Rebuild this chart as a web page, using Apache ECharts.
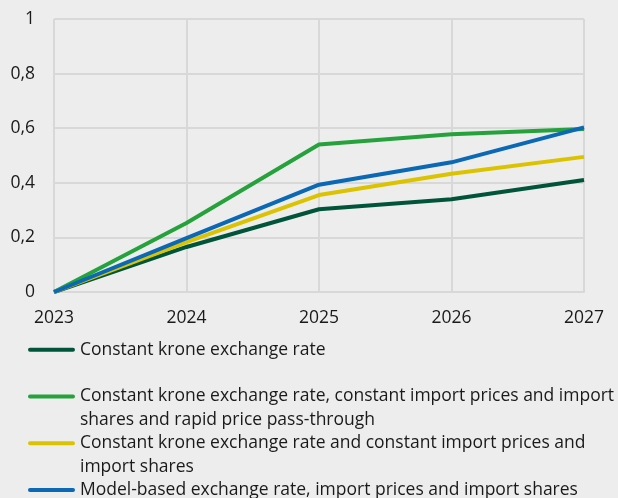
<!DOCTYPE html>
<html>
<head>
<meta charset="utf-8">
<script src="https://cdn.jsdelivr.net/npm/echarts@6/dist/echarts.min.js"></script>
<style>
  html, body { margin: 0; padding: 0; background: #ededed; }
  #chart { width: 618px; height: 498px; }
</style>
</head>
<body>
<div id="chart"></div>
<script>
// data
const years = ['2023', '2024', '2025', '2026', '2027']
const constantKrone = [0, 0.165, 0.303, 0.34, 0.41]
const rapidPassThrough = [0, 0.253, 0.54, 0.578, 0.597]
const constantImport = [0, 0.183, 0.355, 0.433, 0.495]
const modelBased = [0, 0.197, 0.393, 0.475, 0.603]

const seriesNames = [
  'Constant krone exchange rate',
  'Constant krone exchange rate, constant import prices and import shares and rapid price pass-through',
  'Constant krone exchange rate and constant import prices and import shares',
  'Model-based exchange rate, import prices and import shares',
]
// how the legend text wraps in the picture (every entry takes two lines)
const legendLines = {}
legendLines[seriesNames[0]] = 'Constant krone exchange rate\n '
legendLines[seriesNames[1]] = 'Constant krone exchange rate, constant import prices and import\nshares and rapid price pass-through'
legendLines[seriesNames[2]] = 'Constant krone exchange rate and constant import prices and\nimport shares'
legendLines[seriesNames[3]] = 'Model-based exchange rate, import prices and import shares\n '

const colors = ['#00543a', '#26a23c', '#dcc300', '#0a68b4']
const values = [constantKrone, rapidPassThrough, constantImport, modelBased]

const font = '"Open Sans", "Noto Sans", sans-serif'
const gridColor = '#d8d8d8'
const lineH = 23.4

let myChart = echarts.init(document.getElementById('chart'))

let options = {
  backgroundColor: '#ededed',
  animation: false,
  grid: {
    left: 54,
    right: 34,
    top: 19,
    bottom: 206,
  },
  legend: {
    orient: 'vertical',
    left: 23,
    top: 333,
    height: 200,
    // rounded bar at the top of the icon box, so it lines up with the first text line
    icon: 'path://M2,0L45,0A2,2 0 0 1 45,4L2,4A2,2 0 0 1 2,0ZM0,27.4',
    itemWidth: 47,
    itemHeight: 27.4,
    itemGap: 0,
    data: seriesNames,
    formatter: (name) => legendLines[name],
    textStyle: {
      fontFamily: font,
      fontSize: 17.5,
      color: '#1a1a1a',
      lineHeight: lineH,
    },
  },
  xAxis: {
    type: 'category',
    data: years,
    boundaryGap: false,
    axisTick: { show: false },
    axisLine: {
      lineStyle: { color: gridColor, width: 2 },
    },
    splitLine: {
      show: true,
      lineStyle: { color: gridColor, width: 2 },
    },
    axisLabel: {
      fontFamily: font,
      fontSize: 17.5,
      color: '#1a1a1a',
      margin: 17,
      interval: 0,
    },
  },
  yAxis: {
    type: 'value',
    min: 0,
    max: 1,
    interval: 0.2,
    axisLine: { show: false },
    axisTick: { show: false },
    splitLine: {
      lineStyle: { color: gridColor, width: 2 },
    },
    axisLabel: {
      fontFamily: font,
      fontSize: 17.5,
      color: '#1a1a1a',
      margin: 19,
      formatter: (v) => (v === 0 || v === 1 ? String(v) : v.toFixed(1).replace('.', ',')),
    },
  },
  series: seriesNames.map((name, i) => ({
    name: name,
    type: 'line',
    data: values[i],
    color: colors[i],
    showSymbol: false,
    symbol: 'none',
    lineStyle: { width: 4, color: colors[i] },
  })),
}

myChart.setOption(options)
</script>
</body>
</html>
